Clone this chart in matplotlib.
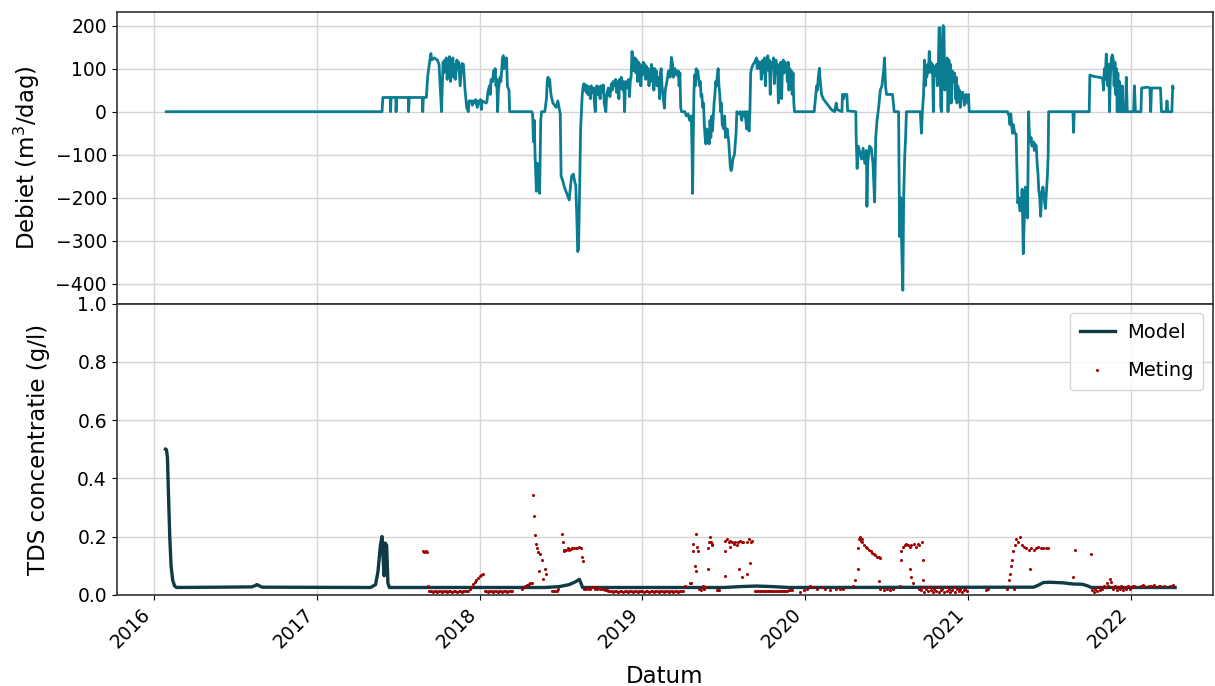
import matplotlib
matplotlib.use('Agg')
import matplotlib.pyplot as plt
import matplotlib.dates as mdates
import numpy as np
import pandas as pd

# Debiet (m3/dag), (decimaal jaar, waarde)
debiet_2016_2017 = [
    (2016.077, 0), (2017.400, 0), (2017.405, 33), (2017.450, 33), (2017.452, 0), (2017.456, 33),
    (2017.484, 33), (2017.486, 0), (2017.490, 33), (2017.561, 33), (2017.563, 0), (2017.567, 33),
    (2017.648, 33), (2017.650, 0), (2017.654, 33), (2017.672, 33), (2017.680, 80), (2017.690, 110),
    (2017.700, 135), (2017.705, 120), (2017.720, 125), (2017.740, 120), (2017.750, 110), (2017.760, 40),
    (2017.765, 0), (2017.770, 60), (2017.775, 115), (2017.780, 90), (2017.785, 120), (2017.790, 100),
    (2017.795, 125), (2017.800, 75), (2017.805, 120), (2017.810, 85), (2017.815, 128), (2017.820, 70),
    (2017.825, 115), (2017.830, 95), (2017.835, 125), (2017.840, 80), (2017.845, 110), (2017.850, 75),
    (2017.860, 120), (2017.865, 100), (2017.870, 115), (2017.880, 60), (2017.890, 112), (2017.900, 110),
    (2017.910, 50), (2017.920, 10), (2017.930, 0), (2017.935, 25), (2017.950, 25), (2017.955, 15),
    (2017.960, 25), (2017.970, 20), (2017.975, 28), (2017.985, 10), (2017.990, 25), (2018.000, 20),
    (2018.005, 28), (2018.010, 5), (2018.015, 25), (2018.030, 22), (2018.040, 20),
]
debiet_2018 = [
    (2018.045, 25), (2018.050, 45), (2018.060, 60), (2018.065, 40), (2018.070, 75), (2018.080, 70),
    (2018.085, 95), (2018.090, 80), (2018.095, 100), (2018.100, 60), (2018.105, 75), (2018.110, 0),
    (2018.115, 50), (2018.125, 80), (2018.130, 70), (2018.135, 95), (2018.140, 125), (2018.145, 130),
    (2018.150, 100), (2018.155, 120), (2018.165, 125), (2018.170, 60), (2018.180, 50), (2018.184, 0),
    (2018.320, 0), (2018.325, -5), (2018.330, -70), (2018.335, -20), (2018.340, -100), (2018.348, -185),
    (2018.355, -120), (2018.362, -150), (2018.368, -190), (2018.375, -20), (2018.380, 0), (2018.400, 0),
    (2018.410, 30), (2018.415, 70), (2018.420, 80), (2018.425, 60), (2018.430, 75), (2018.435, 50),
    (2018.440, 35), (2018.450, 20), (2018.460, 15), (2018.470, 10), (2018.480, 25), (2018.485, 15),
    (2018.495, -5), (2018.500, -150), (2018.510, -160), (2018.520, -175), (2018.530, -185), (2018.540, -195),
    (2018.550, -205), (2018.555, -185), (2018.560, -165), (2018.565, -150), (2018.575, -145), (2018.585, -165),
    (2018.590, -170), (2018.597, -250), (2018.602, -325), (2018.607, -320), (2018.613, -200), (2018.620, -40),
    (2018.625, 0), (2018.630, 40), (2018.635, 58), (2018.640, 65), (2018.645, 50), (2018.650, 62),
    (2018.655, 45), (2018.660, 60), (2018.665, 40), (2018.670, 58), (2018.680, 30), (2018.685, 60),
    (2018.690, 45), (2018.700, 55), (2018.705, 20), (2018.710, 0), (2018.715, 55), (2018.720, 60),
    (2018.725, 40), (2018.730, 58), (2018.740, 30), (2018.745, 60), (2018.750, 45), (2018.760, 62),
    (2018.765, 20), (2018.775, 0), (2018.780, 40), (2018.790, 55), (2018.800, 35), (2018.810, 65),
    (2018.815, 50), (2018.820, 70), (2018.830, 60), (2018.835, 75), (2018.840, 45), (2018.850, 70),
    (2018.855, 30), (2018.860, 75), (2018.865, 55), (2018.870, 80), (2018.880, 50), (2018.885, 70),
    (2018.890, 0), (2018.895, 60), (2018.900, 70), (2018.910, 55), (2018.915, 75), (2018.920, 35),
    (2018.925, 70), (2018.930, 80), (2018.936, 140), (2018.942, 95), (2018.945, 125), (2018.950, 115),
    (2018.955, 125), (2018.960, 90), (2018.965, 120), (2018.970, 70), (2018.975, 115), (2018.980, 100),
    (2018.985, 110), (2018.990, 60), (2018.995, 105),
]
debiet_2019 = [
    (2019.000, 85), (2019.005, 115), (2019.010, 95), (2019.015, 110), (2019.020, 75), (2019.025, 105),
    (2019.030, 90), (2019.035, 100), (2019.040, 60), (2019.045, 95), (2019.050, 70), (2019.055, 110),
    (2019.060, 90), (2019.065, 100), (2019.070, 50), (2019.075, 100), (2019.080, 85), (2019.085, 95),
    (2019.090, 60), (2019.100, 80), (2019.105, 30), (2019.110, 90), (2019.115, 100), (2019.120, 60),
    (2019.125, 40), (2019.135, 8), (2019.140, 50), (2019.150, 70), (2019.160, 95), (2019.170, 80),
    (2019.178, 126), (2019.185, 110), (2019.190, 80), (2019.200, 100), (2019.210, 85), (2019.220, 95),
    (2019.225, 60), (2019.230, 90), (2019.235, 10), (2019.240, 0), (2019.260, 0), (2019.270, -10),
    (2019.280, -5), (2019.290, -20), (2019.300, -10), (2019.305, -100), (2019.308, -190), (2019.312, -60),
    (2019.316, 40), (2019.320, 85), (2019.325, 60), (2019.330, 100), (2019.335, 80), (2019.340, 95),
    (2019.350, 60), (2019.355, 70), (2019.360, 35), (2019.365, 40), (2019.370, 10), (2019.375, 20),
    (2019.380, -30), (2019.385, -60), (2019.390, -75), (2019.395, -40), (2019.400, -70), (2019.405, -55),
    (2019.410, -75), (2019.415, -20), (2019.420, -60), (2019.425, -10), (2019.430, -45), (2019.440, 20),
    (2019.445, 40), (2019.450, 70), (2019.455, 60), (2019.460, 85), (2019.465, 100), (2019.470, 60),
    (2019.475, 40), (2019.480, 0), (2019.485, 20), (2019.490, -30), (2019.500, -40), (2019.505, -10),
    (2019.510, -60), (2019.520, -40), (2019.530, -70), (2019.540, -130), (2019.545, -137), (2019.550, -130),
    (2019.555, -110), (2019.565, -100), (2019.575, -50), (2019.580, 0), (2019.590, -5), (2019.600, 0),
    (2019.610, -20), (2019.615, 0), (2019.625, -10), (2019.630, 0), (2019.640, -40), (2019.645, 0),
    (2019.655, -45), (2019.660, 0), (2019.665, 90), (2019.670, 100), (2019.680, 110), (2019.690, 115),
    (2019.700, 125), (2019.705, 100), (2019.710, 118), (2019.720, 100), (2019.725, 115), (2019.730, 75),
    (2019.735, 110), (2019.740, 120), (2019.745, 90), (2019.750, 125), (2019.755, 60), (2019.760, 115),
    (2019.765, 100), (2019.770, 130), (2019.775, 95), (2019.780, 120), (2019.785, 40), (2019.790, 115),
    (2019.800, 100), (2019.805, 125), (2019.810, 65), (2019.820, 120), (2019.825, 95), (2019.830, 110),
    (2019.835, 20), (2019.840, 80), (2019.845, 100), (2019.850, 115), (2019.855, 30), (2019.860, 105),
    (2019.865, 120), (2019.870, 90), (2019.875, 115), (2019.880, 95), (2019.885, 110), (2019.890, 70),
    (2019.895, 115), (2019.900, 50), (2019.905, 100), (2019.910, 80), (2019.915, 95), (2019.920, 40),
    (2019.925, 90), (2019.930, 20), (2019.934, 0),
]
debiet_2020 = [
    (2020.055, 0), (2020.060, 20), (2020.065, 40), (2020.070, 60), (2020.075, 50), (2020.080, 80),
    (2020.087, 101), (2020.090, 80), (2020.095, 60), (2020.100, 40), (2020.105, 35), (2020.110, 30),
    (2020.120, 25), (2020.130, 20), (2020.140, 15), (2020.150, 10), (2020.160, 5), (2020.170, 2),
    (2020.180, 0), (2020.185, 10), (2020.190, 20), (2020.195, 5), (2020.225, 0), (2020.228, 40),
    (2020.235, 30), (2020.240, 40), (2020.255, 40), (2020.260, 2), (2020.310, 0), (2020.312, -55),
    (2020.318, -132), (2020.325, -80), (2020.335, -95), (2020.345, -110), (2020.355, -85), (2020.365, -120),
    (2020.375, -90), (2020.378, -220), (2020.383, -120), (2020.394, -80), (2020.405, -85), (2020.415, -120),
    (2020.425, -210), (2020.432, -60), (2020.440, -20), (2020.450, 10), (2020.460, 50), (2020.470, 60),
    (2020.480, 95), (2020.486, 125), (2020.492, 60), (2020.498, 40), (2020.535, 40), (2020.545, 0),
    (2020.572, 0), (2020.578, -290), (2020.585, -200), (2020.592, -330), (2020.598, -415), (2020.603, -200),
    (2020.610, -100), (2020.615, -60), (2020.620, 0), (2020.705, 0), (2020.712, -50), (2020.718, 0),
    (2020.725, 40), (2020.731, 120), (2020.735, 60), (2020.740, 100), (2020.745, 80), (2020.750, 110),
    (2020.755, 90), (2020.760, 140), (2020.765, 100), (2020.770, 115), (2020.775, 90), (2020.780, 110),
    (2020.785, 0), (2020.790, 105), (2020.800, 85), (2020.805, 110), (2020.810, 60), (2020.815, 95),
    (2020.820, 195), (2020.825, 195), (2020.830, 10), (2020.835, 0), (2020.840, 120), (2020.845, 200),
    (2020.850, 195), (2020.855, 50), (2020.860, 110), (2020.865, 100), (2020.870, 125), (2020.875, 0),
    (2020.880, 120), (2020.885, 100), (2020.890, 110), (2020.895, 20), (2020.900, 95), (2020.905, 85),
    (2020.910, 70), (2020.915, 90), (2020.920, 30), (2020.925, 80), (2020.930, 20), (2020.935, 60),
    (2020.940, 45), (2020.945, 50), (2020.950, 10), (2020.955, 45), (2020.960, 40), (2020.965, 45),
    (2020.970, 30), (2020.975, 15), (2020.980, 35), (2020.985, 40), (2020.990, 35), (2020.995, 20),
]
debiet_2021_2022 = [
    (2021.000, 40), (2021.005, 0), (2021.240, 0), (2021.250, -10), (2021.255, -30), (2021.260, -5),
    (2021.265, -25), (2021.270, -50), (2021.275, -30), (2021.285, -50), (2021.293, -52), (2021.303, -212),
    (2021.310, -200), (2021.316, -230), (2021.323, -230), (2021.330, -180), (2021.337, -330), (2021.343, -250),
    (2021.350, -175), (2021.356, -200), (2021.362, -247), (2021.366, -150), (2021.370, 0), (2021.373, -40),
    (2021.378, -70), (2021.385, -60), (2021.390, -80), (2021.400, -70), (2021.405, -90), (2021.410, -75),
    (2021.417, -80), (2021.422, -120), (2021.427, -142), (2021.432, -180), (2021.438, -200), (2021.444, -243),
    (2021.450, -190), (2021.458, -175), (2021.465, -200), (2021.473, -225), (2021.480, -180), (2021.485, -150),
    (2021.490, -100), (2021.493, 0), (2021.642, 0), (2021.646, -48), (2021.650, 0), (2021.742, 0),
    (2021.746, 85), (2021.770, 82), (2021.800, 80), (2021.825, 78), (2021.830, 50), (2021.835, 100),
    (2021.840, 75), (2021.847, 134), (2021.852, 100), (2021.857, 60), (2021.862, 110), (2021.867, 0),
    (2021.872, 80), (2021.878, 125), (2021.884, 132), (2021.890, 120), (2021.895, 60), (2021.900, 115),
    (2021.905, 40), (2021.910, 100), (2021.914, 0), (2021.918, 90), (2021.922, 0), (2021.928, 70),
    (2021.932, 0), (2021.940, 0), (2021.945, 60), (2021.950, 0), (2021.965, 0), (2021.970, 80),
    (2021.976, 0), (2022.015, 0), (2022.020, 60), (2022.026, 0), (2022.060, 0), (2022.064, 55),
    (2022.100, 57), (2022.115, 55), (2022.120, 0), (2022.125, 55), (2022.180, 55), (2022.186, 0),
    (2022.215, 0), (2022.220, 25), (2022.225, 0), (2022.250, 0), (2022.255, 60), (2022.258, 55),
]

# TDS concentratie (g/l): model
model_tds = [
    (2016.072, 0.500), (2016.078, 0.498), (2016.084, 0.470), (2016.090, 0.350), (2016.098, 0.200),
    (2016.106, 0.100), (2016.116, 0.050), (2016.128, 0.030), (2016.140, 0.025), (2016.400, 0.026),
    (2016.600, 0.027), (2016.620, 0.031), (2016.632, 0.035), (2016.645, 0.031), (2016.665, 0.026),
    (2017.330, 0.025), (2017.360, 0.035), (2017.375, 0.080), (2017.390, 0.170), (2017.400, 0.200),
    (2017.407, 0.120), (2017.413, 0.065), (2017.419, 0.178), (2017.428, 0.170), (2017.436, 0.040),
    (2017.445, 0.025), (2018.400, 0.025), (2018.490, 0.028), (2018.550, 0.035), (2018.590, 0.045),
    (2018.612, 0.053), (2018.622, 0.040), (2018.632, 0.025), (2019.500, 0.025), (2019.600, 0.028),
    (2019.700, 0.030), (2019.800, 0.028), (2019.900, 0.025), (2021.400, 0.026), (2021.430, 0.033),
    (2021.460, 0.042), (2021.500, 0.043), (2021.580, 0.041), (2021.640, 0.037), (2021.700, 0.036),
    (2021.735, 0.030), (2021.755, 0.025), (2022.270, 0.025),
]

# TDS concentratie (g/l): metingen
meting_2017_2018 = [
    (2017.650, 0.150), (2017.660, 0.148), (2017.670, 0.150), (2017.678, 0.148), (2017.682, 0.030),
    (2017.690, 0.012), (2017.700, 0.012), (2017.710, 0.011), (2017.720, 0.012), (2017.730, 0.012),
    (2017.740, 0.011), (2017.750, 0.012), (2017.760, 0.012), (2017.770, 0.011), (2017.780, 0.012),
    (2017.790, 0.012), (2017.800, 0.011), (2017.810, 0.012), (2017.820, 0.012), (2017.830, 0.011),
    (2017.840, 0.012), (2017.850, 0.012), (2017.860, 0.011), (2017.870, 0.012), (2017.880, 0.012),
    (2017.890, 0.011), (2017.900, 0.012), (2017.910, 0.012), (2017.920, 0.012), (2017.930, 0.013),
    (2017.940, 0.020), (2017.950, 0.028), (2017.960, 0.036), (2017.970, 0.043), (2017.980, 0.050),
    (2017.990, 0.057), (2018.000, 0.063), (2018.010, 0.068), (2018.020, 0.073), (2018.030, 0.012),
    (2018.040, 0.012), (2018.050, 0.011), (2018.060, 0.012), (2018.070, 0.012), (2018.080, 0.011),
    (2018.090, 0.012), (2018.100, 0.012), (2018.110, 0.011), (2018.120, 0.012), (2018.130, 0.012),
    (2018.140, 0.011), (2018.150, 0.012), (2018.160, 0.012), (2018.170, 0.011), (2018.180, 0.012),
    (2018.190, 0.012), (2018.200, 0.012), (2018.258, 0.020), (2018.270, 0.025), (2018.280, 0.030),
    (2018.290, 0.033), (2018.300, 0.036), (2018.310, 0.040), (2018.320, 0.042), (2018.327, 0.342),
    (2018.331, 0.270), (2018.338, 0.205), (2018.348, 0.173), (2018.353, 0.160), (2018.358, 0.148),
    (2018.368, 0.140), (2018.385, 0.120), (2018.362, 0.082), (2018.387, 0.055), (2018.399, 0.090),
    (2018.409, 0.073), (2018.445, 0.012), (2018.455, 0.012), (2018.465, 0.013), (2018.475, 0.012),
    (2018.480, 0.020), (2018.505, 0.210), (2018.511, 0.180), (2018.516, 0.150), (2018.520, 0.155),
    (2018.530, 0.152), (2018.540, 0.160), (2018.550, 0.155), (2018.560, 0.158), (2018.570, 0.160),
    (2018.580, 0.160), (2018.590, 0.162), (2018.600, 0.160), (2018.610, 0.165), (2018.620, 0.160),
    (2018.628, 0.130), (2018.632, 0.115), (2018.640, 0.020), (2018.650, 0.020), (2018.660, 0.022),
    (2018.670, 0.020), (2018.680, 0.020), (2018.690, 0.025), (2018.700, 0.025), (2018.710, 0.020),
    (2018.720, 0.020), (2018.730, 0.022), (2018.740, 0.020), (2018.750, 0.020), (2018.760, 0.020),
    (2018.770, 0.018), (2018.780, 0.015), (2018.790, 0.012), (2018.800, 0.012), (2018.810, 0.012),
    (2018.820, 0.011), (2018.830, 0.012), (2018.840, 0.012), (2018.850, 0.011), (2018.860, 0.012),
    (2018.870, 0.012), (2018.880, 0.011), (2018.890, 0.012), (2018.900, 0.012), (2018.910, 0.011),
    (2018.920, 0.012), (2018.930, 0.012), (2018.940, 0.011), (2018.950, 0.012), (2018.960, 0.012),
    (2018.970, 0.011), (2018.980, 0.012), (2018.990, 0.012),
]
meting_2019 = [
    (2019.000, 0.012), (2019.010, 0.011), (2019.020, 0.012), (2019.030, 0.012), (2019.040, 0.011),
    (2019.050, 0.012), (2019.060, 0.012), (2019.070, 0.011), (2019.080, 0.012), (2019.090, 0.012),
    (2019.100, 0.011), (2019.110, 0.012), (2019.120, 0.012), (2019.130, 0.011), (2019.140, 0.012),
    (2019.150, 0.012), (2019.160, 0.011), (2019.170, 0.012), (2019.180, 0.012), (2019.190, 0.011),
    (2019.200, 0.012), (2019.210, 0.012), (2019.220, 0.011), (2019.230, 0.012), (2019.240, 0.012),
    (2019.250, 0.012), (2019.262, 0.030), (2019.290, 0.040), (2019.300, 0.040), (2019.308, 0.175),
    (2019.312, 0.150), (2019.320, 0.100), (2019.326, 0.080), (2019.330, 0.210), (2019.336, 0.165),
    (2019.340, 0.150), (2019.350, 0.020), (2019.360, 0.015), (2019.370, 0.030), (2019.380, 0.020),
    (2019.390, 0.025), (2019.400, 0.090), (2019.405, 0.160), (2019.410, 0.180), (2019.415, 0.200),
    (2019.420, 0.180), (2019.425, 0.175), (2019.430, 0.170), (2019.455, 0.015), (2019.465, 0.015),
    (2019.473, 0.015), (2019.504, 0.065), (2019.506, 0.150), (2019.510, 0.185), (2019.520, 0.190),
    (2019.530, 0.180), (2019.535, 0.165), (2019.540, 0.185), (2019.550, 0.180), (2019.560, 0.175),
    (2019.570, 0.180), (2019.580, 0.170), (2019.590, 0.180), (2019.600, 0.185), (2019.610, 0.180),
    (2019.620, 0.180), (2019.596, 0.090), (2019.614, 0.060), (2019.640, 0.070), (2019.645, 0.180),
    (2019.655, 0.190), (2019.662, 0.110), (2019.665, 0.180), (2019.675, 0.185), (2019.690, 0.013),
    (2019.700, 0.013), (2019.710, 0.012), (2019.720, 0.013), (2019.730, 0.013), (2019.740, 0.012),
    (2019.750, 0.013), (2019.760, 0.013), (2019.770, 0.012), (2019.780, 0.013), (2019.790, 0.013),
    (2019.800, 0.012), (2019.810, 0.013), (2019.820, 0.013), (2019.830, 0.012), (2019.840, 0.013),
    (2019.850, 0.013), (2019.860, 0.012), (2019.870, 0.013), (2019.880, 0.013), (2019.890, 0.013),
    (2019.900, 0.018), (2019.910, 0.018), (2019.920, 0.018), (2019.970, 0.010), (2019.990, 0.015),
]
meting_2020 = [
    (2020.010, 0.020), (2020.030, 0.030), (2020.050, 0.025), (2020.070, 0.020), (2020.100, 0.025),
    (2020.120, 0.020), (2020.150, 0.015), (2020.190, 0.020), (2020.210, 0.020), (2020.230, 0.020),
    (2020.290, 0.030), (2020.305, 0.050), (2020.322, 0.090), (2020.325, 0.160), (2020.330, 0.190),
    (2020.335, 0.200), (2020.340, 0.185), (2020.345, 0.190), (2020.350, 0.180), (2020.360, 0.170),
    (2020.370, 0.165), (2020.380, 0.160), (2020.390, 0.155), (2020.400, 0.150), (2020.410, 0.145),
    (2020.420, 0.140), (2020.430, 0.135), (2020.440, 0.130), (2020.450, 0.130), (2020.460, 0.125),
    (2020.449, 0.048), (2020.460, 0.020), (2020.480, 0.015), (2020.500, 0.020), (2020.520, 0.015),
    (2020.535, 0.020), (2020.578, 0.030), (2020.584, 0.120), (2020.589, 0.150), (2020.600, 0.165),
    (2020.610, 0.170), (2020.620, 0.175), (2020.630, 0.170), (2020.640, 0.165), (2020.650, 0.170),
    (2020.667, 0.175), (2020.640, 0.090), (2020.650, 0.060), (2020.660, 0.040), (2020.680, 0.165),
    (2020.690, 0.175), (2020.700, 0.170), (2020.715, 0.180), (2020.720, 0.120), (2020.722, 0.050),
    (2020.700, 0.020), (2020.710, 0.015), (2020.720, 0.025), (2020.730, 0.010), (2020.740, 0.020),
    (2020.750, 0.012), (2020.760, 0.025), (2020.770, 0.015), (2020.780, 0.010), (2020.790, 0.020),
    (2020.800, 0.012), (2020.810, 0.025), (2020.820, 0.010), (2020.830, 0.015), (2020.840, 0.020),
    (2020.850, 0.010), (2020.860, 0.025), (2020.870, 0.012), (2020.880, 0.020), (2020.890, 0.010),
    (2020.900, 0.015), (2020.910, 0.025), (2020.920, 0.010), (2020.930, 0.020), (2020.940, 0.012),
    (2020.950, 0.020), (2020.960, 0.010), (2020.970, 0.015), (2020.980, 0.020), (2020.990, 0.012),
]
meting_2021_2022 = [
    (2021.110, 0.018), (2021.120, 0.020), (2021.240, 0.020), (2021.247, 0.050), (2021.255, 0.070),
    (2021.262, 0.100), (2021.268, 0.120), (2021.272, 0.150), (2021.280, 0.020), (2021.285, 0.170),
    (2021.295, 0.190), (2021.305, 0.180), (2021.315, 0.200), (2021.327, 0.170), (2021.340, 0.165),
    (2021.355, 0.160), (2021.370, 0.155), (2021.376, 0.090), (2021.385, 0.160), (2021.400, 0.155),
    (2021.415, 0.160), (2021.430, 0.165), (2021.445, 0.160), (2021.460, 0.160), (2021.475, 0.160),
    (2021.487, 0.160), (2021.640, 0.060), (2021.653, 0.155), (2021.750, 0.140), (2021.760, 0.015),
    (2021.770, 0.010), (2021.780, 0.020), (2021.790, 0.012), (2021.800, 0.025), (2021.810, 0.015),
    (2021.820, 0.020), (2021.830, 0.030), (2021.840, 0.025), (2021.850, 0.040), (2021.860, 0.030),
    (2021.870, 0.055), (2021.875, 0.045), (2021.880, 0.025), (2021.890, 0.020), (2021.900, 0.030),
    (2021.910, 0.015), (2021.920, 0.025), (2021.930, 0.020), (2021.940, 0.030), (2021.950, 0.015),
    (2021.960, 0.025), (2021.970, 0.020), (2021.980, 0.030), (2021.990, 0.020), (2022.000, 0.025),
    (2022.010, 0.030), (2022.020, 0.030), (2022.060, 0.030), (2022.070, 0.032), (2022.080, 0.030),
    (2022.110, 0.030), (2022.120, 0.030), (2022.140, 0.032), (2022.170, 0.030), (2022.180, 0.030),
    (2022.200, 0.030), (2022.240, 0.030), (2022.255, 0.032),
]

# zichtbaar datumbereik van de x-as (decimaal jaar)
x_bereik = [2015.772, 2022.500]


def naar_datum(jaren):
    # decimaal jaar -> datum
    jaren = np.asarray(jaren, dtype=float)
    jaar = np.floor(jaren).astype(int)
    begin = pd.to_datetime(pd.Series(jaar.astype(str)) + '-01-01')
    eind = pd.to_datetime(pd.Series((jaar + 1).astype(str)) + '-01-01')
    sec = (eind - begin).dt.total_seconds().to_numpy() * (jaren - jaar)
    return (begin + pd.to_timedelta(sec, unit='s')).to_numpy()


debiet = debiet_2016_2017 + debiet_2018 + debiet_2019 + debiet_2020 + debiet_2021_2022
meting = meting_2017_2018 + meting_2019 + meting_2020 + meting_2021_2022

t_deb = naar_datum([p[0] for p in debiet])
q_deb = [p[1] for p in debiet]
t_mod = naar_datum([p[0] for p in model_tds])
c_mod = [p[1] for p in model_tds]
t_met = naar_datum([p[0] for p in meting])
c_met = [p[1] for p in meting]

fig, (ax1, ax2) = plt.subplots(2, 1, sharex=True, figsize=(12.15, 6.86), dpi=100)
fig.subplots_adjust(left=0.096, right=0.998, top=0.982, bottom=0.133, hspace=0)

ax1.plot(t_deb, q_deb, color='#0b7d93', lw=2.0)
ax1.set_ylabel('Debiet (m$^3$/dag)', fontsize=16.5, labelpad=10)
ax1.grid(True, color='#d4d4d4', lw=1.0)

ax2.plot(t_mod, c_mod, color='#0f3a46', lw=2.4, label='Model')
ax2.plot(t_met, c_met, 'o', color='#a00000', ms=2.2, mew=0, label='Meting')
ax2.set_ylim(0, 1.0)
ax2.set_xlim(naar_datum(x_bereik))
ax2.set_ylabel('TDS concentratie (g/l)', fontsize=16.5)
ax2.set_xlabel('Datum', fontsize=16.5, labelpad=10)
ax2.grid(True, color='#d4d4d4', lw=1.0)
ax2.legend(loc='upper right', fontsize=14, labelspacing=1.0, handlelength=1.8,
           handletextpad=0.6, borderpad=0.5)

ax2.xaxis.set_major_locator(mdates.YearLocator())
ax2.xaxis.set_major_formatter(mdates.DateFormatter('%Y'))
plt.setp(ax2.get_xticklabels(), rotation=45, ha='right')

for ax in (ax1, ax2):
    ax.tick_params(labelsize=13.5)
    for s in ax.spines.values():
        s.set_color('#333333')
        s.set_linewidth(1.2)

fig.align_ylabels([ax1, ax2])

fig.savefig('out.png', dpi=100)
